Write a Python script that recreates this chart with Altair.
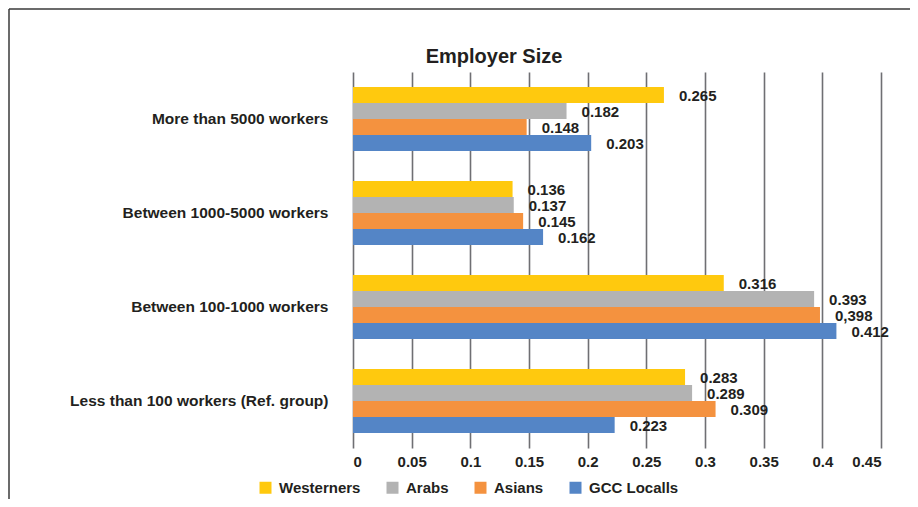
import altair as alt
import pandas as pd

categories = [
    "More than 5000 workers",
    "Between 1000-5000 workers",
    "Between 100-1000 workers",
    "Less than 100 workers (Ref. group)",
]
series = ["Westerners", "Arabs", "Asians", "GCC Localls"]
colors = ["#FFC90E", "#B3B3B3", "#F4923F", "#5485C6"]

westerners = [0.265, 0.136, 0.316, 0.283]
arabs = [0.182, 0.137, 0.393, 0.289]
asians = [0.148, 0.145, 0.398, 0.309]
gcc = [0.203, 0.162, 0.412, 0.223]

westerners_lbl = ["0.265", "0.136", "0.316", "0.283"]
arabs_lbl = ["0.182", "0.137", "0.393", "0.289"]
asians_lbl = ["0.148", "0.145", "0,398", "0.309"]
gcc_lbl = ["0.203", "0.162", "0.412", "0.223"]

x_ticks = [0, 0.05, 0.1, 0.15, 0.2, 0.25, 0.3, 0.35, 0.4, 0.45]
title_text = "Employer Size"

rows = []
for s, vals, lbls in zip(series, [westerners, arabs, asians, gcc],
                         [westerners_lbl, arabs_lbl, asians_lbl, gcc_lbl]):
    for c, v, l in zip(categories, vals, lbls):
        rows.append({"category": c, "series": s, "value": v, "label": l})
df = pd.DataFrame(rows)
one = pd.DataFrame({"t": [title_text]})

FONT = "Liberation Sans"
TXT = "#231F20"

x_enc = alt.X(
    "value:Q",
    scale=alt.Scale(domain=[0, 0.45], nice=False, zero=True),
    axis=alt.Axis(
        values=x_ticks, format="~g", title=None, grid=True,
        gridColor="#6F6F73", gridWidth=1.6, ticks=False, domain=False,
        labelFont=FONT, labelFontSize=15, labelFontWeight="bold",
        labelColor=TXT, labelPadding=6,
    ),
)
y_enc = alt.Y(
    "category:N",
    sort=categories,
    scale=alt.Scale(domain=categories, paddingInner=0.32, paddingOuter=0.16),
    axis=alt.Axis(
        title=None, ticks=False, domain=False, grid=False,
        labelFont=FONT, labelFontSize=15.5, labelFontWeight="bold",
        labelColor=TXT, labelPadding=25, labelLimit=400,
    ),
)
yoff = alt.YOffset(
    "series:N", sort=series,
    scale=alt.Scale(domain=series, paddingInner=0, paddingOuter=0),
)

bars = alt.Chart(df).mark_bar(strokeWidth=0).encode(
    x=x_enc,
    y=y_enc,
    yOffset=yoff,
    color=alt.Color(
        "series:N",
        scale=alt.Scale(domain=series, range=colors),
        legend=alt.Legend(
            title=None, orient="none", direction="horizontal",
            legendX=-95, legendY=408, symbolType="square", symbolSize=144,
            symbolStrokeWidth=0, labelFont=FONT, labelFontSize=15,
            labelFontWeight="bold", labelColor=TXT, columnPadding=24,
            labelOffset=6, padding=0,
        ),
    ),
)

labels = alt.Chart(df).mark_text(
    align="left", baseline="middle", dx=15, dy=1,
    font=FONT, fontSize=15, fontWeight="bold", color=TXT,
).encode(
    x="value:Q",
    y=alt.Y("category:N", sort=categories),
    yOffset=alt.YOffset("series:N", sort=series),
    text="label:N",
)

title = alt.Chart(one).mark_text(
    align="center", baseline="middle", font=FONT, fontSize=20,
    fontWeight="bold", color=TXT,
).encode(x=alt.value(141), y=alt.value(-15), text="t:N")

border_left = alt.Chart(one).mark_rule(color="#3A3A3A", strokeWidth=1.5).encode(
    x=alt.value(-344), y=alt.value(-63), y2=alt.value(440)
)
border_top = alt.Chart(one).mark_rule(color="#3A3A3A", strokeWidth=1.5).encode(
    x=alt.value(-344), x2=alt.value(560), y=alt.value(-63)
)

chart = alt.layer(bars, labels, title, border_left, border_top).properties(
    width=528,
    height=376,
    autosize=alt.AutoSizeParams(type="none"),
    padding={"left": 345, "top": 64, "right": 29, "bottom": 51},
    background="white",
).configure_view(stroke=None)

chart.save("out.html", embed_options={"renderer": "svg", "actions": False})
